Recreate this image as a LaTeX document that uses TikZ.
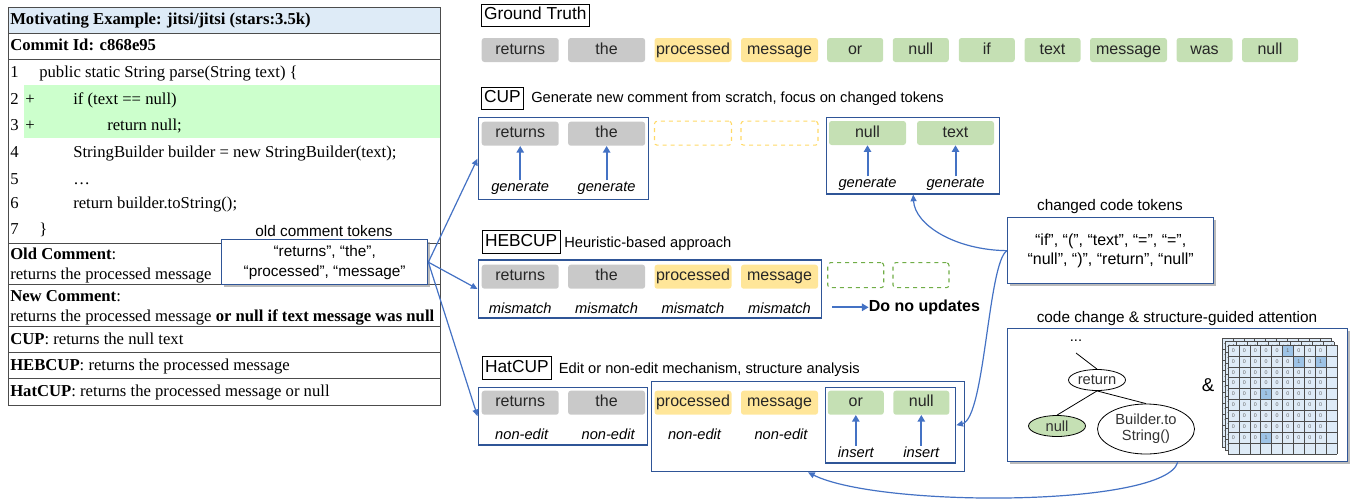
\documentclass[tikz,border=0pt]{standalone}
\usepackage{fontspec}
\setmainfont{Liberation Serif}
\setsansfont{Liberation Sans}
\usetikzlibrary{arrows.meta}
\usetikzlibrary{shapes.geometric,shadows}

\definecolor{tokgray}{HTML}{C9C9C9}
\definecolor{tokyellow}{HTML}{FFE699}
\definecolor{tokgreen}{HTML}{C5E0B4}
\definecolor{dashyellow}{HTML}{FFD966}
\definecolor{dashgreen}{HTML}{70AD47}
\definecolor{boxblue}{HTML}{2F5597}
\definecolor{arrblue}{HTML}{4472C4}
\definecolor{headblue}{HTML}{DEEBF7}
\definecolor{codegreen}{HTML}{CCFFCC}
\definecolor{cellblue}{HTML}{DEEBF7}
\definecolor{cellone}{HTML}{9DC3E6}

\tikzset{
  tok/.style={rounded corners=2pt, inner sep=0pt, minimum width=57.75pt, minimum height=18pt,
    text height=8.6pt, text depth=2.4pt, font=\sffamily\fontsize{12}{14}\selectfont, text=black!85},
  shorttok/.style={tok, minimum width=42pt},
  act/.style={inner sep=1pt, font=\sffamily\itshape\fontsize{11}{13}\selectfont},
  bbox/.style={draw=boxblue, line width=1pt, inner sep=0pt, anchor=north west},
  lbox/.style={draw, line width=0.6pt, inner xsep=2pt, inner ysep=0pt, minimum height=17pt,
    text height=9.3pt, text depth=2.6pt, anchor=west, font=\sffamily\fontsize{13}{15}\selectfont},
  desc/.style={anchor=west, inner sep=0pt, font=\sffamily\fontsize{11}{13}\selectfont},
  boxtitle/.style={inner sep=0pt, font=\sffamily\fontsize{11.5}{13}\selectfont},
  conn/.style={draw=arrblue, line width=0.9pt, -{Triangle[length=5pt,width=4.5pt]}},
  tokarrow/.style={draw=arrblue, line width=1.5pt, -{Triangle[length=5pt,width=5.5pt]}},
  tabline/.style={draw=black!70, line width=0.75pt},
  tabtxt/.style={anchor=west, inner sep=0pt, text height=9pt, text depth=3pt, font=\fontsize{12.5}{15}\selectfont},
  shadowbox/.style={draw=boxblue, line width=1pt, fill=white, inner sep=0pt, anchor=north west, align=center,
    drop shadow={shadow xshift=2pt, shadow yshift=-2pt, fill=black!45, opacity=0.6},
    font=\sffamily\fontsize{11.5}{15}\selectfont},
  treenode/.style={ellipse, draw, line width=0.6pt, inner sep=0pt, minimum width=42.75pt, minimum height=15.75pt,
    font=\sffamily\fontsize{11}{12}\selectfont, text=black!80},
  celltxt/.style={inner sep=0pt, text=black!60, font=\sffamily\fontsize{4}{4}\selectfont},
  cellline/.style={draw=black!70, line width=0.35pt}
}

\begin{document}
\begin{tikzpicture}[x=0.75pt,y=-0.75pt]
\useasboundingbox (0,0) rectangle (1351,500);

% table on the left
\fill[headblue] (8,7) rectangle (440,33);
\fill[codegreen] (24,85) rectangle (440,138);
\draw[tabline] (8,7) rectangle (440,405);
\foreach \y in {33,59,243,284,326,352,378} \draw[tabline] (8,\y) -- (440,\y);
\node[tabtxt] (head) at (10,20) {\bfseries Motivating Example: jitsi/jitsi (stars:3.5k)};
\node[tabtxt] (commit) at (10,46) {\bfseries Commit Id: c868e95};
\foreach \n/\y in {1/73,2/100,3/126,4/153,5/180,6/204,7/230} \node[tabtxt] (ln\n) at (10,\y) {\n};
\node[tabtxt] (plusA) at (25,100) {+};
\node[tabtxt] (plusB) at (25,126) {+};
\node[tabtxt] (codeA) at (39,73) {public static String parse(String text) \{};
\node[tabtxt] (codeB) at (73,100) {if (text == null)};
\node[tabtxt] (codeC) at (107,126) {return null;};
\node[tabtxt] (codeD) at (73,153) {StringBuilder builder = new StringBuilder(text);};
\node[tabtxt] (codeE) at (73,180) {\ldots};
\node[tabtxt] (codeF) at (73,204) {return builder.toString();};
\node[tabtxt] (codeG) at (39,230) {\}};
\node[tabtxt] (oldc) at (10,255) {\textbf{Old Comment}:};
\node[tabtxt] (oldm) at (10,275) {returns the processed message};
\node[tabtxt] (newc) at (10,297) {\textbf{New Comment}:};
\node[tabtxt] (newm) at (10,317) {returns the processed message \textbf{or null if text message was null}};
\node[tabtxt] (cupr) at (10,340) {\textbf{CUP}: returns the null text};
\node[tabtxt] (hebr) at (10,366) {\textbf{HEBCUP}: returns the processed message};
\node[tabtxt] (hatr) at (10,392) {\textbf{HatCUP}: returns the processed message or null};

\node[boxtitle] (oldlbl) at (324,231) {old comment tokens};
\node[shadowbox, minimum width=154.5pt, minimum height=33.75pt] (oldtok) at (221,239) {“returns”, “the”,\\“processed”, “message”};

% ground truth
\node[lbox] (gtl) at (481,15.5) {Ground Truth};
\foreach \x/\t/\c/\s [count=\i] in {520.2/returns/tokgray/tok, 606.6/the/tokgray/tok,
    693/processed/tokyellow/tok, 779.5/message/tokyellow/tok, 855.2/or/tokgreen/shorttok,
    920.8/null/tokgreen/shorttok, 986.8/if/tokgreen/shorttok, 1052.5/text/tokgreen/shorttok,
    1128.5/message/tokgreen/tok, 1204.5/was/tokgreen/shorttok, 1270/null/tokgreen/shorttok}
  \node[\s, fill=\c] (gt\i) at (\x,50) {\t};

% CUP
\node[lbox] (cupl) at (481,98.3) {CUP};
\node[desc] (cupd) at (531,99) {Generate new comment from scratch, focus on changed tokens};
\node[bbox, minimum width=127.9pt, minimum height=61.5pt] (cupA) at (477.5,117) {};
\node[bbox, minimum width=129.75pt, minimum height=57.2pt] (cupB) at (826,117) {};
\node[tok, fill=tokgray] (cupt1) at (520.2,133.7) {returns};
\node[tok, fill=tokgray] (cupt2) at (606.6,133.7) {the};
\node[tok, draw=dashyellow, dashed, line width=0.8pt] (cupt3) at (693,133.2) {};
\node[tok, draw=dashyellow, dashed, line width=0.8pt] (cupt4) at (779.5,133.2) {};
\node[tok, fill=tokgreen] (cupt5) at (867.5,133) {null};
\node[tok, fill=tokgreen] (cupt6) at (955.5,133) {text};
\node[act] (cupg1) at (520.2,188) {generate};
\node[act] (cupg2) at (606.6,188) {generate};
\node[act] (cupg5) at (867.5,184.3) {generate};
\node[act] (cupg6) at (955.5,184.3) {generate};
\foreach \i in {1,2,5,6} \draw[tokarrow] (cupg\i) -- (cupt\i);

% HEBCUP
\node[lbox] (hebl) at (482,242) {HEBCUP};
\node[desc] (hebd) at (564,243.3) {Heuristic-based approach};
\node[bbox, minimum width=257.6pt, minimum height=43.5pt] (hebA) at (477.5,259.3) {};
\foreach \x/\t/\c [count=\i] in {520.2/returns/tokgray, 606.6/the/tokgray, 693/processed/tokyellow, 779.5/message/tokyellow}{
  \node[tok, fill=\c] (hebt\i) at (\x,276.7) {\t};
  \node[act] (hebm\i) at (\x,308.3) {mismatch};
}
\node[shorttok, draw=dashgreen, dashed, line width=0.8pt, minimum height=18.75pt] (hebt5) at (855.75,275.2) {};
\node[shorttok, draw=dashgreen, dashed, line width=0.8pt, minimum height=18.75pt] (hebt6) at (921,275.2) {};
\coordinate (nostart) at (832,307.3);
\node[anchor=west, inner sep=0pt, font=\sffamily\bfseries\fontsize{12}{14}\selectfont] (noup) at (868.6,307.3) {Do no updates};
\draw[tokarrow] (nostart) -- (noup.west);

% HatCUP
\node[lbox] (hatl) at (482,367.8) {HatCUP};
\node[desc] (hatd) at (558.6,369.3) {Edit or non-edit mechanism, structure analysis};
\node[bbox, minimum width=127.1pt, minimum height=43.2pt] (hatA) at (477.5,386.7) {};
\node[bbox, minimum width=234.5pt, minimum height=67.5pt] (hatB) at (651,381) {};
\node[bbox, minimum width=97.8pt, minimum height=56.7pt] (hatC) at (824.6,386.7) {};
\foreach \x/\t/\c [count=\i] in {520.2/returns/tokgray, 606.6/the/tokgray, 693/processed/tokyellow, 779.5/message/tokyellow}{
  \node[tok, fill=\c] (hatt\i) at (\x,402.7) {\t};
  \node[act] (hatn\i) at (\x+1.5,434) {non-edit};
}
\node[shorttok, fill=tokgreen] (hatt5) at (855.8,402.7) {or};
\node[shorttok, fill=tokgreen] (hatt6) at (921.3,402.7) {null};
\node[act] (hati5) at (855.8,452.7) {insert};
\node[act] (hati6) at (921.3,452.7) {insert};
\foreach \i in {5,6} \draw[tokarrow] (hati\i) -- (hatt\i);

% right side
\node[boxtitle] (chgl) at (1110,207) {changed code tokens};
\node[shadowbox, minimum width=154.5pt, minimum height=49.5pt, font=\sffamily\fontsize{12}{14.25}\selectfont] (chg) at (1007,217) {“if”, “(”, “text”, “=”, “=”,\\“null”, “)”, “return”, “null”};
\node[boxtitle] (strl) at (1177,319) {code change \& structure-guided attention};
\node[shadowbox, minimum width=255pt, minimum height=99.75pt] (str) at (1007,328) {};

% tree
\node[inner sep=1pt, font=\sffamily\fontsize{11}{12}\selectfont] (tdots) at (1076,341) {...};
\coordinate (tup) at (1076,353);
\node[treenode] (tret) at (1097,380) {return};
\node[treenode, fill=tokgreen] (tnull) at (1057,426) {null};
\node[treenode, minimum width=72.75pt, minimum height=37.5pt, align=center] (tbld) at (1146,429) {Builder.to\\String()};
\draw[line width=0.6pt] (tup) -- (tret.north);
\draw[line width=0.6pt] (tret.south) -- (tnull.north);
\draw[line width=0.6pt] (tret.south) -- (tbld.north);
\node[font=\sffamily\fontsize{14}{16}\selectfont] (amp) at (1208,385) {\&};

% attention matrix
\def\mx{1228}
\def\my{345}
\def\cs{10.9}
\foreach \ox/\oy in {-6/-7,-3/-3.5}{
  \fill[cellblue] (\mx+\ox,\my+\oy) rectangle ++(109,109);
  \foreach \i in {0,...,10}{
    \draw[cellline] (\mx+\ox+\i*\cs,\my+\oy) -- ++(0,109);
    \draw[cellline] (\mx+\ox,\my+\oy+\i*\cs) -- ++(109,0);
  }
  \foreach \i in {0,...,9}{
    \node[celltxt] (infr\i) at (\mx+\ox+\i*\cs+\cs/2,\my+\oy+\cs/2) {-inf};
    \node[celltxt] (infc\i) at (\mx+\ox+\cs/2,\my+\oy+\i*\cs+\cs/2) {-inf};
  }
}
\fill[cellblue] (\mx,\my) rectangle ++(109,109);
\foreach \row [count=\r] in {{0,0,0,0,0,1,0,0,0},{0,0,0,0,0,0,1,0,1},{0,0,0,0,0,0,0,0,0},
    {0,0,0,0,0,0,0,0,0},{0,0,0,1,0,0,0,0,0},{0,0,0,0,0,0,0,0,0},{0,0,0,0,0,0,0,0,0},
    {0,0,0,0,0,0,0,0,0},{0,0,0,1,0,0,0,0,0}}{
  \foreach \v [count=\c] in \row {
    \ifnum\v=1 \fill[cellone] (\mx+\c*\cs-\cs,\my+\r*\cs-\cs) rectangle ++(\cs,\cs); \fi
    \node[celltxt] (m\r-\c) at (\mx+\c*\cs-\cs/2,\my+\r*\cs-\cs/2) {\v};
  }
}
\foreach \i in {0,...,10}{
  \draw[cellline] (\mx+\i*\cs,\my) -- ++(0,109);
  \draw[cellline] (\mx,\my+\i*\cs) -- ++(109,0);
}

% connectors
\draw[conn] (oldtok.east) -- (cupA.west);
\draw[conn] (oldtok.east) -- (hebA.west);
\draw[conn] (oldtok.east) -- (hatA.west);
\draw[conn] (chg.west) .. controls (955,250) and (915,225) .. (cupB.south);
\draw[conn] (chg.west) .. controls (988,262) and (985,418) .. (hatC.east);
\draw[conn] (str.south) .. controls (1165,507) and (880,508) .. (hatB.south);
\end{tikzpicture}
\end{document}
